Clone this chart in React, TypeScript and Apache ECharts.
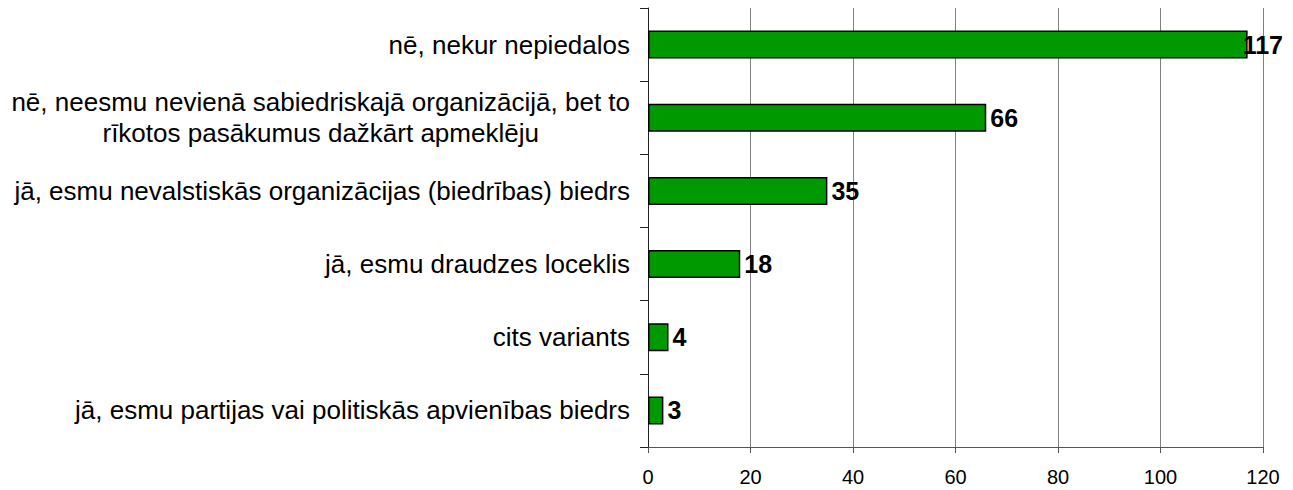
import React, { useEffect, useRef } from "react";
import * as echarts from "echarts";

const categories: string[] = [
  "nē, nekur nepiedalos",
  "nē, neesmu nevienā sabiedriskajā organizācijā, bet to\nrīkotos pasākumus dažkārt apmeklēju",
  "jā, esmu nevalstiskās organizācijas (biedrības) biedrs",
  "jā, esmu draudzes loceklis",
  "cits variants",
  "jā, esmu partijas vai politiskās apvienības biedrs",
];
const values: number[] = [117, 66, 35, 18, 4, 3];
const xTicks = { min: 0, max: 120, interval: 20 };

export default function App() {
  const ref = useRef<HTMLDivElement>(null);
  useEffect(() => {
    if (!ref.current) return;
    const chart = echarts.init(ref.current, null, { renderer: "svg" });
    const data = values.map((v) => {
      const item: any = { value: v };
      // Excel pulls the overflowing label back inside the plot area
      if (v > xTicks.max - 6) item.label = { offset: [-9, 0] };
      return item;
    });
    const ff = "Liberation Sans, Arial, sans-serif";
    chart.setOption({
      animation: false,
      backgroundColor: "#ffffff",
      grid: { left: 648, right: 30, top: 8, bottom: 43, containLabel: false, outerBoundsMode: "none" },
      xAxis: {
        type: "value",
        min: xTicks.min,
        max: xTicks.max,
        interval: xTicks.interval,
        axisLine: { show: true, lineStyle: { color: "#555555", width: 1 } },
        axisTick: { show: true, length: 6, lineStyle: { color: "#555555" } },
        axisLabel: { color: "#000000", fontSize: 20, fontFamily: ff, margin: 20 },
        splitLine: { show: true, lineStyle: { color: "#808080", width: 1 } },
      },
      yAxis: {
        type: "category",
        inverse: true,
        data: categories,
        axisLine: { show: true, lineStyle: { color: "#222222", width: 1 } },
        axisTick: { show: true, length: 8, inside: false, lineStyle: { color: "#222222" } },
        axisLabel: {
          color: "#000000",
          fontSize: 26,
          fontFamily: ff,
          margin: 18,
          lineHeight: 31,
          formatter: (v: string) =>
            v
              .split("\n")
              .map((l) => `{c|${l}}`)
              .join("\n"),
          rich: {
            c: { align: "center", fontSize: 26, lineHeight: 31, color: "#000000", fontFamily: ff },
          },
        },
        splitLine: { show: false },
      },
      series: [
        {
          type: "bar",
          data,
          barWidth: 28,
          itemStyle: { color: "#009900", borderColor: "#000000", borderWidth: 1.5 },
          label: {
            show: true,
            position: "right",
            distance: 4,
            color: "#000000",
            fontWeight: "bold",
            fontSize: 25,
            fontFamily: ff,
          },
        },
      ],
    });
    return () => chart.dispose();
  }, []);
  return (
    <div
      ref={ref}
      style={{ position: "absolute", left: 0, top: 0, width: 1293, height: 490 }}
    />
  );
}
